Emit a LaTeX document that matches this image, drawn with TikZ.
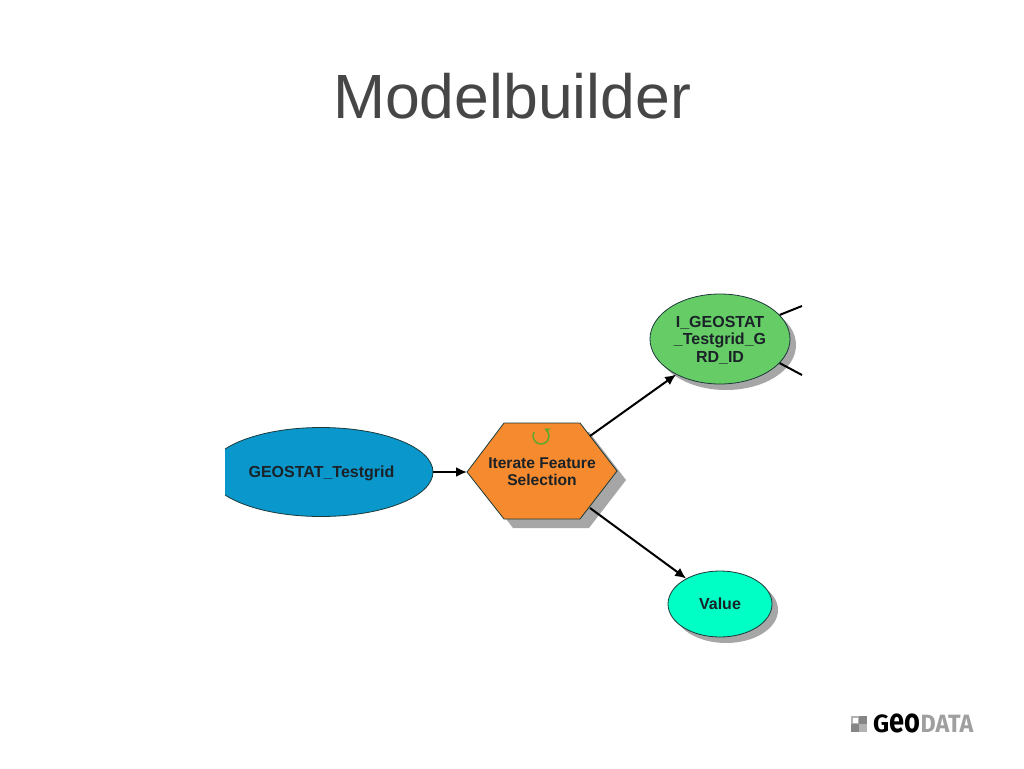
\documentclass[tikz,border=0pt]{standalone}
\usepackage{fontspec}
\setmainfont{Liberation Sans}
\newfontfamily\logofont{Fira Sans}
\usetikzlibrary{arrows.meta,shapes.geometric}
\definecolor{titlegray}{HTML}{464646}
\definecolor{blueel}{HTML}{0A97CB}
\definecolor{hexor}{HTML}{F68A2E}
\definecolor{greenel}{HTML}{66CC66}
\definecolor{aquael}{HTML}{00FFC5}
\definecolor{shadowg}{HTML}{A6A6A6}
\definecolor{edgedk}{HTML}{1C3A3A}
\definecolor{lbl}{HTML}{1A2228}
\definecolor{iconc}{HTML}{5FA82A}
\tikzset{
  x=1pt,y=-1pt,
  labelfont/.style={font=\fontsize{16}{17.5}\selectfont\bfseries,text=lbl},
  modelnode/.style={ellipse,draw=edgedk,line width=0.8pt,inner sep=0pt,align=center,labelfont},
  shadowel/.style={ellipse,fill=shadowg,inner sep=0pt},
  link/.style={draw=black,line width=2pt,-{Latex[length=11pt,width=10pt]}},
  plainlink/.style={draw=black,line width=2pt},
}
\begin{document}
\begin{tikzpicture}
\useasboundingbox (0,0) rectangle (1024,768);
\fill[white] (0,0) rectangle (1024,768);
\node[text=titlegray,font=\fontsize{62.5}{70}\selectfont,anchor=base] (title) at (512,118) {Modelbuilder};
% blue ellipse
\begin{scope}
\clip (225,400) rectangle (450,540);
\node[modelnode,fill=blueel,minimum width=224pt,minimum height=89pt] (src) at (321,472) {};
\end{scope}
\node[labelfont] (srcl) at (321.5,473) {GEOSTAT\_Testgrid};
% hexagon
\fill[shadowg] (513,432) -- (589,432) -- (626,480) -- (589,528) -- (513,528) -- (476,480) -- cycle;
\coordinate (hexL) at (467,472);
\coordinate (hexTR) at (590,436);
\coordinate (hexBR) at (590,508);
\draw[fill=hexor,draw=edgedk,line width=0.8pt] (504,423) -- (580,423) -- (617,471) -- (580,519) -- (504,519) -- (hexL) -- cycle;
\node[labelfont,font=\fontsize{15.6}{17}\selectfont\bfseries,align=center] (hex) at (542,472) {Iterate Feature\\Selection};
\draw[iconc,line width=1.5pt,-{Stealth[length=6pt,width=6pt]}] (534.1,432) arc[start angle=-150,end angle=-425,radius=8];
% green ellipse
\node[shadowel,minimum width=140pt,minimum height=90pt] (gs) at (726,345) {};
\node[modelnode,fill=greenel,minimum width=140pt,minimum height=90pt] (grn) at (720,339) {};
\node[labelfont,align=center] (grnl) at (720,340) {I\_GEOSTAT\\\_Testgrid\_G\\RD\_ID};
% value
\node[shadowel,minimum width=104pt,minimum height=66pt] (vs) at (726,610) {};
\node[modelnode,fill=aquael,minimum width=104pt,minimum height=66pt] (val) at (720,604) {};
\node[labelfont] (vall) at (720,604) {Value};
% connectors
\coordinate (g1) at (802,306);
\coordinate (g2) at (802,375);
\draw[link] (src.east) -- (hexL);
\draw[link] (hexTR) -- (grn.-141.5);
\draw[link] (hexBR) -- (val.143);
\draw[plainlink] (grn.22) -- (g1);
\draw[plainlink] (grn.-22) -- (g2);
% logo
\fill[gray!60] (851,715.5) rectangle (859,724);
\fill[gray!60] (859,724) rectangle (867,731.5);
\fill[gray!95] (859,715.5) rectangle (867,724);
\fill[gray!95] (851,724) rectangle (859,731.5);
\fill[white] (853,717.5) rectangle (858,722.5);
\node[anchor=base west,inner sep=0pt,font=\logofont\bfseries] (logo) at (873,732.5) {\textcolor{black}{\fontsize{25}{25}\selectfont G\hspace{0.5pt}\scalebox{.8}[1]{\fontsize{34}{25}\selectfont eo}}\textcolor{gray!75}{\fontsize{25}{25}\selectfont\scalebox{.93}[1]{DATA}}};
\end{tikzpicture}
\end{document}
